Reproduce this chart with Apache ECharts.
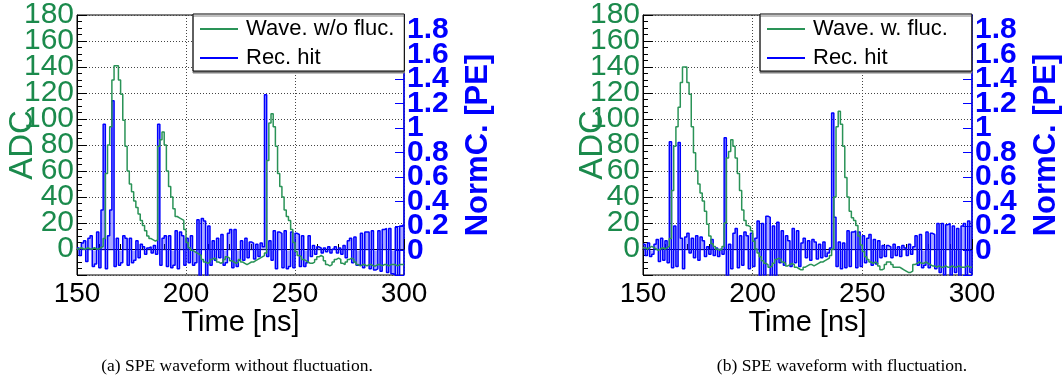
<!DOCTYPE html>
<html>
<head>
<meta charset="utf-8">
<script src="https://cdn.jsdelivr.net/npm/echarts@6/dist/echarts.min.js"></script>
<style>
  html, body { margin: 0; padding: 0; background: #fff; }
  #chart { width: 1064px; height: 385px; }
</style>
</head>
<body>
<div id="chart"></div>
<script>
// 1 ns bins, first bin starts at 150 ns
const T0 = 150;
const timeRange = [150, 300];
const adcRange = [-20, 180];
const normRange = [-0.2, 1.92];

// (a) waveform without fluctuation, ADC per bin
const waveA = [
  0, 1, 0, 0, 1, 0, 0, 1, 0, 0,
  1, 2, 8, 58, 80, 94, 130, 141, 141, 130,
  119, 99, 79, 60, 50, 44, 37, 32, 27, 22,
  18, 14, 10, 8, 7, 6, 7, 79, 84, 90,
  80, 60, 48, 40, 31, 25, 24, 23, 22, 15,
  5, 1, -1, -2, -3, -4, -5, -8, -10, -11,
  -10, -8, -7, -8, -10, -11, -10, -8, -6, -7,
  -9, -10, -11, -10, -8, -10, -11, -12, -11, -10,
  -10, -9, -8, -7, -6, -5, -3, 68, 97, 104,
  94, 79, 58, 48, 40, 30, 25, 22, 15, 5,
  -2, -5, -6, -8, -9, -10, -11, -11, -10, -8,
  -6, -5, -6, -9, -12, -13, -12, -10, -8, -7,
  -8, -11, -12, -10, -8, -7, -8, -10, -12, -13,
  -12, -12, -13, -12, -12, -13, -13, -12, -12, -13,
  -12, -12, -13, -12, -12, -12, -13, -12, -12, -12
];
// (a) reconstructed hits, PE per bin
const hitA = [
  0.02, -0.04, 0.06, 0.08, -0.09, 0.1, 0.12, -0.13, -0.11, 0.15,
  -0.14, 0.33, 1.03, -0.15, 0.12, 0.33, 1.22, -0.13, 0.1, -0.12,
  -0.1, 0.12, 0.1, -0.12, 0.1, -0.1, -0.08, 0.08, -0.06, 0.05,
  0.03, -0.03, 0.02, 0.03, -0.02, 0.04, -0.03, 1.03, -0.12, 0.1,
  0.12, -0.13, 0.12, -0.14, -0.12, 0.16, -0.15, 0.15, 0.12, -0.12,
  0.1, -0.1, 0.12, -0.12, -0.1, 0.25, -0.22, 0.26, 0.24, -0.22,
  0.2, -0.12, 0.08, -0.08, 0.1, -0.06, 0.13, -0.12, -0.1, 0.14,
  0.17, -0.14, 0.17, -0.13, -0.08, 0.08, -0.08, 0.1, -0.06, 0.07,
  0.06, -0.07, 0.05, -0.05, 0.06, 0.03, 1.27, -0.05, 0.08, -0.08,
  0.16, -0.15, 0.15, 0.14, -0.14, 0.16, -0.15, -0.13, 0.15, -0.14,
  0.14, 0.13, -0.13, 0.12, -0.13, -0.1, 0.12, -0.05, 0.04, -0.03,
  0.03, 0.02, -0.02, 0.02, -0.01, 0.03, -0.02, 0.01, 0.03, -0.02,
  0.02, -0.03, 0.04, -0.06, 0.08, 0.1, -0.1, 0.11, -0.12, -0.12,
  0.14, -0.14, 0.15, 0.15, -0.15, 0.16, -0.16, -0.15, 0.16, -0.17,
  0.17, 0.18, -0.18, 0.18, -0.19, -0.2, 0.19, -0.22, 0.2, 0.21
];
// (b) waveform with fluctuation
const waveB = [
  1, 0, 1, 2, 1, 0, -1, 0, 1, 0,
  1, 2, 8, 45, 79, 94, 109, 128, 140, 140,
  128, 119, 94, 74, 60, 50, 43, 37, 29, 19,
  10, 4, 2, 0, -1, 0, 2, 20, 70, 75,
  84, 79, 70, 58, 45, 30, 22, 18, 17, 14,
  6, 0, -3, -6, -9, -11, -12, -14, -13, -11,
  -8, -7, -8, -10, -11, -13, -12, -11, -12, -14,
  -15, -16, -16, -14, -13, -12, -12, -13, -12, -11,
  -10, -10, -9, -8, -7, -5, 0, 40, 94, 106,
  96, 79, 55, 40, 29, 24, 22, 18, 10, 3,
  -2, -6, -8, -10, -11, -10, -11, -13, -16, -15,
  -12, -10, -10, -12, -14, -14, -14, -15, -16, -17,
  -18, -18, -17, -12, -11, -10, -11, -11, -10, -11,
  -12, -13, -13, -14, -13, -14, -14, -13, -14, -14,
  -13, -14, -14, -13, -14, -14, -14, -13, -14, -14
];
// (b) reconstructed hits
const hitB = [
  0.05, -0.04, 0.06, -0.05, -0.03, 0.05, 0.09, -0.09, 0.1, -0.08,
  0.08, -0.1, 0.886, -0.14, 0.2, -0.13, 0.88, 0.1, -0.15, 0.11,
  0.14, -0.02, 0.1, -0.06, 0.12, -0.08, 0.11, 0.08, -0.05, 0.03,
  -0.03, 0.09, -0.04, 0.02, -0.05, 0.01, -0.03, 0.92, -0.22, 0.05,
  -0.15, 0.14, 0.18, -0.14, 0.12, -0.12, 0.15, 0.12, -0.15, 0.14,
  -0.13, 0.1, 0.24, -0.22, 0.22, -0.2, 0.28, 0.27, -0.22, 0.2,
  -0.22, 0.23, -0.1, 0.16, -0.12, 0.12, 0.08, -0.13, 0.18, -0.1,
  0.16, -0.13, 0.06, 0.1, -0.06, 0.08, -0.08, 0.09, 0.07, -0.07,
  0.05, -0.06, 0.07, -0.05, -0.02, 0.02, 1.12, 0.27, -0.13, 0.07,
  -0.15, 0.06, -0.14, 0.16, -0.13, 0.15, 0.16, -0.14, 0.15, -0.13,
  0.12, -0.1, 0.1, 0.13, -0.12, 0.09, -0.11, 0.08, -0.06, 0.04,
  -0.05, 0.04, 0.03, -0.06, 0.05, -0.04, 0.03, -0.05, 0.04, 0.02,
  -0.04, 0.05, -0.03, 0.03, 0.12, -0.12, 0.13, -0.14, -0.12, 0.15,
  -0.14, 0.14, 0.13, -0.15, 0.22, -0.18, 0.22, -0.2, 0.21, 0.22,
  -0.2, 0.2, -0.18, 0.18, -0.22, 0.2, 0.22, -0.2, 0.24, -0.18
];

const GREEN = '#1b8a4c';
const GREEN_LINE = '#2a9357';
const BLUE = '#0000ff';
const FONT = '"Liberation Sans", Arial, sans-serif';
const dotted = { type: [1, 2], color: '#444', width: 1 };

// histogram: each value held over its bin, closing point at the last edge
function steps(vals) {
  const pts = vals.map((v, i) => [T0 + i, v]);
  pts.push([T0 + vals.length, vals[vals.length - 1]]);
  return pts;
}

function xAxis(g) {
  return {
    type: 'value', gridIndex: g, min: timeRange[0], max: timeRange[1], interval: 50,
    name: 'Time [ns]', nameLocation: 'middle', nameGap: 33, nameMoveOverlap: false,
    nameTextStyle: { color: '#000', fontSize: 29, fontFamily: FONT },
    axisLine: { lineStyle: { color: '#000', width: 1 } },
    axisTick: { inside: true, length: 10, lineStyle: { color: '#000' } },
    minorTick: { show: true, splitNumber: 5, length: 5, lineStyle: { color: '#000' } },
    axisLabel: { color: '#000', fontSize: 28, fontFamily: FONT, margin: 5, showMinLabel: true, showMaxLabel: true },
    splitLine: { show: true, lineStyle: dotted }
  };
}

const adcLabel = { color: GREEN, fontSize: 30, fontFamily: FONT, margin: 3 };

function adcAxis(g, gap) {
  return {
    type: 'value', gridIndex: g, position: 'left', min: adcRange[0], max: adcRange[1], interval: 20,
    name: 'ADC', nameLocation: 'middle', nameGap: gap, nameMoveOverlap: false,
    nameTextStyle: { color: GREEN, fontSize: 33, fontFamily: FONT },
    axisLine: { show: true, lineStyle: { color: '#000', width: 1 } },
    axisTick: { inside: true, length: 10, lineStyle: { color: '#000' } },
    minorTick: { show: true, splitNumber: 4, length: 5, lineStyle: { color: '#000' } },
    axisLabel: Object.assign({}, adcLabel, { showMaxLabel: false,
      formatter: v => (v < 0 || v >= adcRange[1] ? '' : String(v)) }),
    splitLine: { show: true, lineStyle: dotted }
  };
}

// overlay axis that only carries the top "180" label (its neighbour would otherwise be dropped)
function adcTopAxis(g) {
  return {
    type: 'value', gridIndex: g, position: 'left', min: adcRange[0], max: adcRange[1], interval: 20,
    axisLine: { show: false }, axisTick: { show: false }, splitLine: { show: false },
    axisLabel: Object.assign({}, adcLabel, { showMaxLabel: true,
      formatter: v => (v >= adcRange[1] ? String(v) : '') })
  };
}

function normAxis(g) {
  return {
    type: 'value', gridIndex: g, position: 'right', min: normRange[0], max: normRange[1], interval: 0.2,
    name: 'NormC. [PE]', nameLocation: 'middle', nameGap: 59, nameMoveOverlap: false,
    nameTextStyle: { color: BLUE, fontSize: 31, fontWeight: 'bold', fontFamily: FONT },
    axisLine: { show: true, lineStyle: { color: BLUE, width: 1.5 } },
    axisTick: { inside: true, length: 9, lineStyle: { color: BLUE } },
    axisLabel: { color: BLUE, fontSize: 30, fontWeight: 'bold', fontFamily: FONT, margin: 3,
      formatter: v => (v < -0.01 || v > 1.85 ? '' : String(Math.round(v * 10) / 10)) },
    splitLine: { show: false }
  };
}

function waveSeries(name, x, y, vals) {
  return {
    name, type: 'line', xAxisIndex: x, yAxisIndex: y, data: steps(vals), step: 'end',
    showSymbol: false, symbol: 'none', silent: true, z: 4,
    lineStyle: { color: GREEN_LINE, width: 1.5 }, itemStyle: { color: GREEN_LINE }
  };
}

function hitSeries(x, y, vals) {
  return {
    name: 'Rec. hit', type: 'line', xAxisIndex: x, yAxisIndex: y, data: steps(vals), step: 'end',
    showSymbol: false, symbol: 'none', silent: true, z: 3,
    lineStyle: { color: BLUE, width: 1.5 }, itemStyle: { color: BLUE },
    areaStyle: { color: 'rgba(30,30,255,0.55)' }
  };
}

function legend(names, left, padRight) {
  return {
    data: names, orient: 'vertical', left, top: 14, selectedMode: false,
    icon: 'rect', itemWidth: 38, itemHeight: 2, itemGap: 7,
    textStyle: { color: '#000', fontSize: 22, fontFamily: FONT, padding: [0, 0, 0, 3] },
    backgroundColor: '#fff', borderColor: '#000', borderWidth: 1, borderRadius: 0,
    padding: [4, padRight, 2, 7],
    shadowColor: '#808080', shadowOffsetY: 2, shadowOffsetX: 0, shadowBlur: 0
  };
}

const chart = echarts.init(document.getElementById('chart'));
chart.setOption({
  animation: false,
  backgroundColor: '#fff',
  title: [
    { text: '(a) SPE waveform without fluctuation.', left: 237, top: 357, textAlign: 'center', padding: 0,
      textStyle: { fontFamily: '"Liberation Serif", "Times New Roman", serif', fontSize: 17.5, fontWeight: 'normal', color: '#000' } },
    { text: '(b) SPE waveform with fluctuation.', left: 842, top: 357, textAlign: 'center', padding: 0,
      textStyle: { fontFamily: '"Liberation Serif", "Times New Roman", serif', fontSize: 17.5, fontWeight: 'normal', color: '#000' } }
  ],
  legend: [
    legend(['Wave. w/o fluc.', 'Rec. hit'], 193, 10),
    legend(['Wave. w. fluc.', 'Rec. hit'], 760, 24)
  ],
  grid: [
    { left: 77, top: 14, width: 327, height: 261, show: true, borderColor: '#000', borderWidth: 1, backgroundColor: 'transparent' },
    { left: 643, top: 14, width: 329, height: 261, show: true, borderColor: '#000', borderWidth: 1, backgroundColor: 'transparent' }
  ],
  xAxis: [xAxis(0), xAxis(1)],
  yAxis: [adcAxis(0, 38), normAxis(0), adcTopAxis(0), adcAxis(1, 34), normAxis(1), adcTopAxis(1)],
  series: [
    hitSeries(0, 1, hitA),
    waveSeries('Wave. w/o fluc.', 0, 0, waveA),
    hitSeries(1, 4, hitB),
    waveSeries('Wave. w. fluc.', 1, 3, waveB)
  ]
});
</script>
</body>
</html>
